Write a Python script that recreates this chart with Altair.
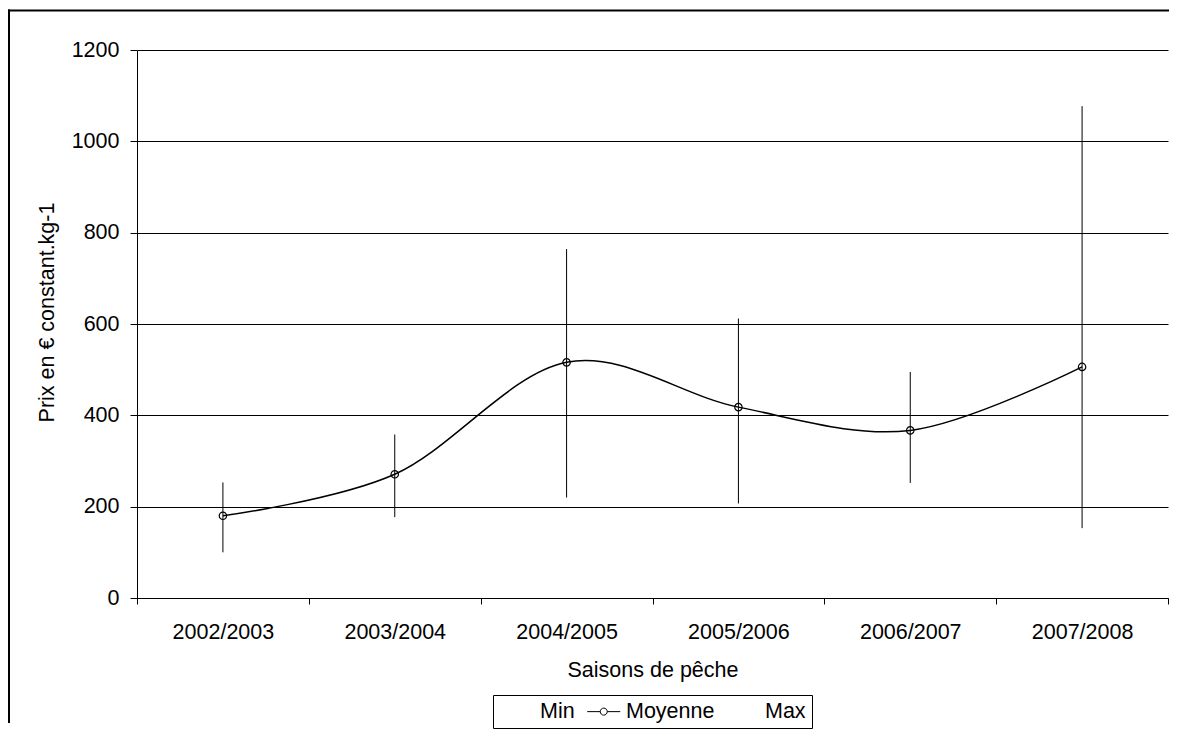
import altair as alt
import pandas as pd

# ---- data ----
saisons = ["2002/2003", "2003/2004", "2004/2005", "2005/2006", "2006/2007", "2007/2008"]
moyenne = [180, 271, 516, 418, 367, 506]
minimum = [100, 177, 220, 207, 252, 153]
maximum = [253, 358, 764, 612, 495, 1077]
series = ["Min", "Moyenne", "Max"]
y_ticks = [0, 200, 400, 600, 800, 1000, 1200]

df = pd.DataFrame({"saison": saisons, "moyenne": moyenne, "min": minimum, "max": maximum})
leg = pd.DataFrame({"serie": series, "v": [0, 0, 0]})

FONT = "Liberation Sans"
FS = 21.5
W, H = 1031, 548
PAD = {"left": 129, "top": 42, "right": 3, "bottom": 131}

x_enc = alt.X(
    "saison:N",
    sort=saisons,
    bandPosition=0.5,
    scale=alt.Scale(type="band", paddingInner=0, paddingOuter=0),
    axis=alt.Axis(
        title="Saisons de pêche",
        tickBand="extent",
        labelAngle=0,
        labelFont=FONT, labelFontSize=FS, labelColor="black",
        labelBaseline="alphabetic", labelPadding=34,
        tickSize=6, tickColor="black", domainColor="black",
        titleFont=FONT, titleFontSize=FS, titleFontWeight="normal", titleColor="black",
        titleX=W / 2, titleY=78, titleBaseline="alphabetic",
        grid=False,
    ),
)

y_scale = alt.Scale(domain=[0, 1200], nice=False)
y_axis = alt.Axis(
    title="Prix en € constant.kg-1",
    values=y_ticks,
    format="d",
    grid=True, gridColor="black", gridWidth=1,
    tickSize=7, tickColor="black", domainColor="black",
    labelFont=FONT, labelFontSize=FS, labelColor="black", labelPadding=11,
    titleFont=FONT, titleFontSize=FS, titleFontWeight="normal", titleColor="black",
    titleX=-84, titleY=262, titleAngle=-90, titleBaseline="alphabetic", titleAlign="center",
)

# outer chart-area frame: left and top edges (drawn as one path, stays inside the page)
one = pd.DataFrame({"a": [0]})
frame_left = alt.Chart(one).mark_rule(color="black", strokeWidth=2).encode(
    x=alt.value(-128), y=alt.value(-40.5), y2=alt.value(H + 125),
)
frame_top = alt.Chart(one).mark_rule(color="black", strokeWidth=2).encode(
    x=alt.value(-129), x2=alt.value(W + 1), y=alt.value(-39.5),
)

bars = alt.Chart(df).mark_rule(color="black", strokeWidth=1).encode(
    x=x_enc,
    y=alt.Y("min:Q", scale=y_scale, axis=y_axis),
    y2="max:Q",
)

line = alt.Chart(df).mark_line(color="black", strokeWidth=1.5, interpolate="cardinal").encode(
    x=x_enc,
    y=alt.Y("moyenne:Q", scale=y_scale, axis=y_axis),
)

points = alt.Chart(df).mark_point(
    shape="circle", filled=False, color="black", strokeWidth=1.2, size=55, opacity=1
).encode(
    x=x_enc,
    y=alt.Y("moyenne:Q", scale=y_scale, axis=y_axis),
)

# legend symbol: box 20px wide (size 400), drawn line from -0.8 to 2.5 units (10px each)
line_circle = ("M-0.8,0L0.5,0M1.2,0L2.5,0"
               "M0.5,0A0.35,0.35,0,1,1,1.2,0A0.35,0.35,0,1,1,0.5,0")
empty = "M0,0L0,0"

legend_layer = alt.Chart(leg).mark_point(
    filled=False, color="black", strokeWidth=1, size=400, opacity=1
).encode(
    x=x_enc,
    y=alt.Y("v:Q", scale=y_scale, axis=y_axis),
    shape=alt.Shape(
        "serie:N",
        scale=alt.Scale(domain=series, range=[empty, line_circle, empty]),
        legend=alt.Legend(
            title=None,
            orient="none", legendX=356, legendY=645,
            direction="horizontal",
            strokeColor="black", padding=5.5,
            symbolSize=400, symbolStrokeWidth=1, symbolStrokeColor="black",
            symbolFillColor="transparent", symbolOpacity=1,
            labelFont=FONT, labelFontSize=FS, labelColor="black",
            labelOffset=20, columnPadding=9,
        ),
    ),
).transform_filter("false")

chart = alt.layer(frame_left, frame_top, bars, line, points, legend_layer).properties(
    width=W, height=H,
    autosize=alt.AutoSizeParams(type="none"),
    padding=PAD,
    background="white",
).configure_view(stroke="transparent")

chart.save("out.html", embed_options={"renderer": "svg", "actions": False})
